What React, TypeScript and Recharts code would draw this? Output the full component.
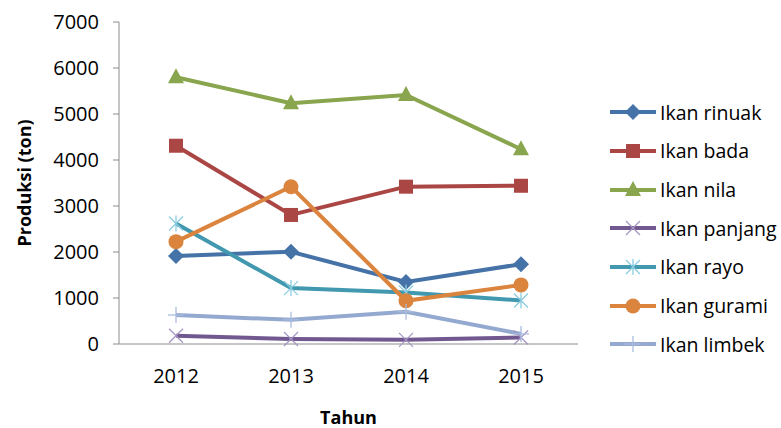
import React from "react";
import { Line, LineChart, XAxis, YAxis } from "recharts";

const years = ["2012", "2013", "2014", "2015"];
const yTicks = [0, 1000, 2000, 3000, 4000, 5000, 6000, 7000];

const rinuak = [1915, 2005, 1350, 1735];
const bada = [4310, 2805, 3420, 3440];
const nila = [5800, 5235, 5415, 4235];
const panjang = [180, 110, 90, 140];
const rayo = [2620, 1215, 1120, 945];
const gurami = [2225, 3420, 940, 1285];
const limbek = [630, 525, 700, 220];

type Shape = "diamond" | "square" | "triangle" | "x" | "star" | "circle" | "plus";

interface SeriesDef {
  key: string;
  name: string;
  values: number[];
  color: string;
  markColor: string;
  shape: Shape;
}

const series: SeriesDef[] = [
  { key: "rinuak", name: "Ikan rinuak", values: rinuak, color: "#4572A7", markColor: "#4572A7", shape: "diamond" },
  { key: "bada", name: "Ikan bada", values: bada, color: "#AA4643", markColor: "#AA4643", shape: "square" },
  { key: "nila", name: "Ikan nila", values: nila, color: "#89A54E", markColor: "#89A54E", shape: "triangle" },
  { key: "panjang", name: "Ikan panjang", values: panjang, color: "#71588F", markColor: "#A595C2", shape: "x" },
  { key: "rayo", name: "Ikan rayo", values: rayo, color: "#4198AF", markColor: "#8ACCE0", shape: "star" },
  { key: "gurami", name: "Ikan gurami", values: gurami, color: "#DB843D", markColor: "#DB843D", shape: "circle" },
  { key: "limbek", name: "Ikan limbek", values: limbek, color: "#93A9CF", markColor: "#AABCDD", shape: "plus" },
];

const data = years.map((year, i) => {
  const row: Record<string, string | number> = { year };
  series.forEach((s) => {
    row[s.key] = s.values[i];
  });
  return row;
});

const FONT = "'Open Sans', sans-serif";

function Marker({ shape, cx, cy, color }: { shape: Shape; cx: number; cy: number; color: string }) {
  const s = 7;
  switch (shape) {
    case "diamond":
      return <polygon points={`${cx},${cy - s - 1} ${cx + s + 1},${cy} ${cx},${cy + s + 1} ${cx - s - 1},${cy}`} fill={color} />;
    case "square":
      return <rect x={cx - s} y={cy - s} width={s * 2} height={s * 2} fill={color} />;
    case "triangle":
      return <polygon points={`${cx},${cy - s - 2} ${cx + s + 1},${cy + s - 1} ${cx - s - 1},${cy + s - 1}`} fill={color} />;
    case "circle":
      return <circle cx={cx} cy={cy} r={s + 0.5} fill={color} />;
    case "x":
      return (
        <g stroke={color} strokeWidth={1.3}>
          <line x1={cx - s} y1={cy - s} x2={cx + s} y2={cy + s} />
          <line x1={cx - s} y1={cy + s} x2={cx + s} y2={cy - s} />
        </g>
      );
    case "star":
      return (
        <g stroke={color} strokeWidth={1.3}>
          <line x1={cx - s} y1={cy - s} x2={cx + s} y2={cy + s} />
          <line x1={cx - s} y1={cy + s} x2={cx + s} y2={cy - s} />
          <line x1={cx} y1={cy - s - 1} x2={cx} y2={cy + s + 1} />
        </g>
      );
    case "plus":
      return (
        <g stroke={color} strokeWidth={1.3}>
          <line x1={cx} y1={cy - s - 1} x2={cx} y2={cy + s + 1} />
          <line x1={cx - s - 1} y1={cy} x2={cx + s + 1} y2={cy} />
        </g>
      );
  }
}

function LegendBox() {
  return (
    <div style={{ position: "absolute", left: 608, top: 93, width: 175, fontFamily: FONT, fontSize: 19.5, color: "#000" }}>
      {series.map((s) => (
        <div key={s.key} style={{ display: "flex", alignItems: "center", height: 38.7 }}>
          <svg width={52} height={20} style={{ display: "block" }}>
            <line x1={2} y1={10} x2={48} y2={10} stroke={s.color} strokeWidth={4} />
            <Marker shape={s.shape} cx={25} cy={10} color={s.markColor} />
          </svg>
          <span style={{ whiteSpace: "nowrap", lineHeight: 1 }}>{s.name}</span>
        </div>
      ))}
    </div>
  );
}

export default function App() {
  return (
    <div style={{ position: "absolute", left: 0, top: 0, width: 781, height: 428, background: "#fff" }}>
      <LineChart width={781} height={428} data={data} margin={{ top: 22, right: 203, bottom: 0, left: 0 }}>
        <XAxis
          dataKey="year"
          height={84}
          padding={{ left: 57, right: 57 }}
          tickLine={false}
          tickSize={0}
          tickMargin={25}
          axisLine={{ stroke: "#8C8C8C", strokeWidth: 1 }}
          tick={{ fill: "#000", fontSize: 20, fontFamily: FONT }}
          label={{
            value: "Tahun",
            position: "insideBottom",
            offset: 4,
            style: { fill: "#000", fontSize: 18, fontWeight: 700, fontFamily: FONT },
          }}
        />
        <YAxis
          width={119}
          domain={[0, 7000]}
          ticks={yTicks}
          interval={0}
          tickSize={6}
          tickMargin={14}
          tickLine={{ stroke: "#8C8C8C" }}
          axisLine={{ stroke: "#8C8C8C", strokeWidth: 1 }}
          tick={{ fill: "#000", fontSize: 20, fontFamily: FONT }}
          label={{
            value: "Produksi (ton)",
            angle: -90,
            position: "insideLeft",
            offset: 25,
            style: { textAnchor: "middle", fill: "#000", fontSize: 18, fontWeight: 700, fontFamily: FONT },
          }}
        />
        {series.map((s) => (
          <Line
            key={s.key}
            dataKey={s.key}
            name={s.name}
            type="linear"
            stroke={s.color}
            strokeWidth={4}
            isAnimationActive={false}
            activeDot={false}
            dot={(p: any) => <Marker key={`${s.key}-${p.index}`} shape={s.shape} cx={p.cx} cy={p.cy} color={s.markColor} />}
          />
        ))}
      </LineChart>
      <LegendBox />
    </div>
  );
}
